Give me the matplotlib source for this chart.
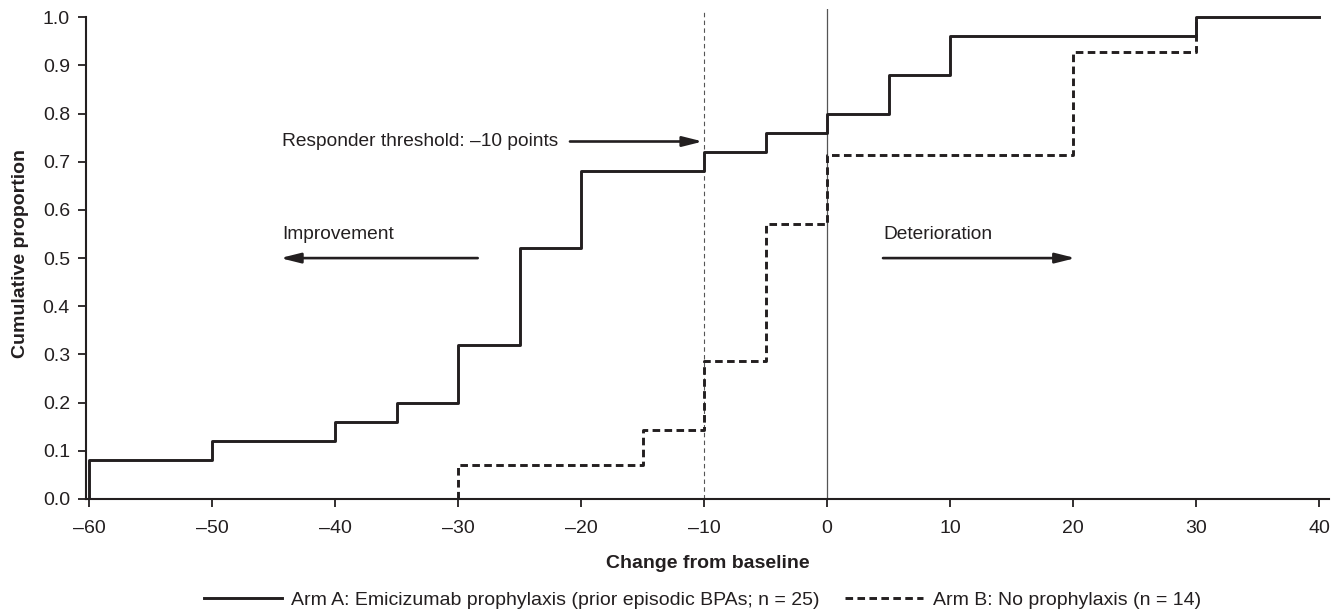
import matplotlib
matplotlib.use("Agg")
import matplotlib.pyplot as plt

plt.rcParams['font.family'] = ['Liberation Sans', 'DejaVu Sans']

# Arm A: emicizumab prophylaxis (n = 25)
arm_a_x = [-60, -60, -50, -40, -35, -30, -25, -20, -10, -5, 0, 5, 10, 30, 40]
arm_a_y = [0.0, 0.08, 0.12, 0.16, 0.20, 0.32, 0.52, 0.68, 0.72, 0.76, 0.80, 0.88, 0.96, 1.00, 1.00]

# Arm B: no prophylaxis (n = 14)
arm_b_x = [-30, -30, -15, -10, -5, 0, 20, 30]
arm_b_y = [0.0, 0.0714, 0.1429, 0.2857, 0.5714, 0.7143, 0.9286, 1.00]

x_ticks = [-60, -50, -40, -30, -20, -10, 0, 10, 20, 30, 40]
x_tick_labels = ['–60', '–50', '–40', '–30', '–20', '–10', '0', '10', '20', '30', '40']
y_ticks = [0.0, 0.1, 0.2, 0.3, 0.4, 0.5, 0.6, 0.7, 0.8, 0.9, 1.0]
y_tick_labels = ['0.0', '0.1', '0.2', '0.3', '0.4', '0.5', '0.6', '0.7', '0.8', '0.9', '1.0']

label_a = 'Arm A: Emicizumab prophylaxis (prior episodic BPAs; n = 25)'
label_b = 'Arm B: No prophylaxis (n = 14)'

ink = '#231f20'
fs = 14

fig = plt.figure(figsize=(13.43, 6.13), dpi=100)
ax = fig.add_axes([0.0640, 0.186, 0.9255, 0.7993])

ax.axvline(-10, color='#555555', lw=0.8, ls=(0, (4, 3)), zorder=1)
ax.axvline(0, color='#555555', lw=0.9, zorder=1)

ax.step(arm_a_x, arm_a_y, where='post', color=ink, lw=2.1, label=label_a, zorder=3)
ax.step(arm_b_x, arm_b_y, where='post', color=ink, lw=2.1, ls=(0, (2.6, 1.5)), label=label_b, zorder=3)

ax.set_xlim(-60.25, 40.8)
ax.set_ylim(0, 1.017)
ax.spines['top'].set_visible(False)
ax.spines['right'].set_visible(False)
ax.spines['left'].set_bounds(0, 1.0)
for s in ('left', 'bottom'):
    ax.spines[s].set_linewidth(1.5)
    ax.spines[s].set_color(ink)

ax.set_xticks(x_ticks)
ax.set_xticklabels(x_tick_labels)
ax.set_yticks(y_ticks)
ax.set_yticklabels(y_tick_labels)
ax.tick_params(axis='both', direction='out', length=5.5, width=1.3, colors=ink, labelsize=fs, pad=6)
ax.tick_params(axis='x', pad=9.5)

ax.set_xlabel('Change from baseline', fontsize=fs, fontweight='bold', color=ink, labelpad=13)
ax.set_ylabel('Cumulative proportion', fontsize=fs, fontweight='bold', color=ink, labelpad=10)

arrowprops = dict(arrowstyle='-|>,head_length=1.2,head_width=0.3', color=ink, lw=1.9, shrinkA=0, shrinkB=0)
ax.text(-44.3, 0.742, 'Responder threshold: –10 points', fontsize=13.8, color=ink, va='center', ha='left')
ax.annotate('', xy=(-10.1, 0.742), xytext=(-20.9, 0.742), arrowprops=arrowprops)

ax.text(-44.3, 0.55, 'Improvement', fontsize=13.8, color=ink, va='center', ha='left')
ax.annotate('', xy=(-44.45, 0.50), xytext=(-28.4, 0.50), arrowprops=arrowprops)

ax.text(4.55, 0.55, 'Deterioration', fontsize=13.8, color=ink, va='center', ha='left')
ax.annotate('', xy=(20.2, 0.50), xytext=(4.55, 0.50), arrowprops=arrowprops)

handles, labels = ax.get_legend_handles_labels()
leg = fig.legend(handles, labels, loc='center', bbox_to_anchor=(0.523, 0.021), ncol=2,
                 frameon=False, fontsize=fs, handlelength=4.0, handletextpad=0.5,
                 columnspacing=1.3, borderaxespad=0, borderpad=0)
for t in leg.get_texts():
    t.set_color(ink)

fig.savefig('out.png', dpi=100)
